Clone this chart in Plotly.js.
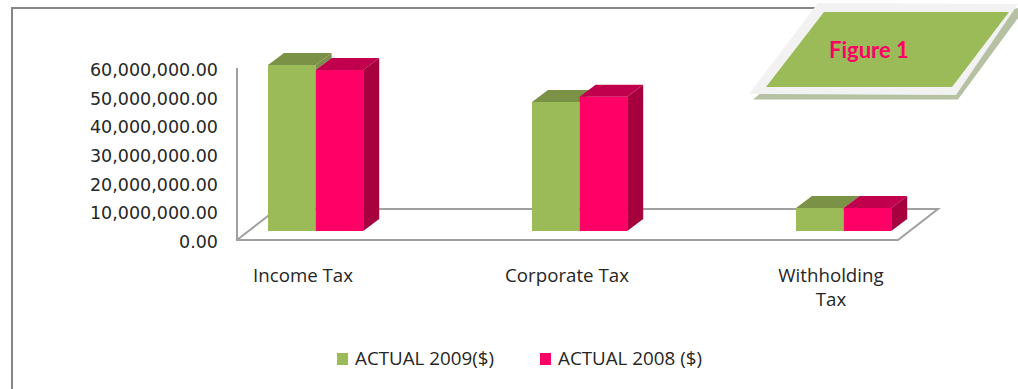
<!DOCTYPE html>
<html>
<head>
<meta charset="utf-8">
<script src="https://cdn.plot.ly/plotly-3.0.1.min.js"></script>
<style>html,body{margin:0;padding:0;background:#fff;overflow:hidden}</style>
</head>
<body>
<div id="chart" style="width:1018px;height:389px"></div>
<script>
// Tax revenue by type, in dollars
const categories = ["Income Tax", "Corporate Tax", "Withholding<br>Tax"];
const actual2009 = [57900000, 45000000, 8000000];
const actual2008 = [56200000, 46800000, 8000000];
const yTicks = [0, 10000000, 20000000, 30000000, 40000000, 50000000, 60000000];
const yTickText = ["0.00", "10,000,000.00", "20,000,000.00", "30,000,000.00", "40,000,000.00", "50,000,000.00", "60,000,000.00"];
const series2009 = "ACTUAL 2009($)";
const series2008 = "ACTUAL 2008 ($)";

// Plot area in pixels; value zero sits at zeroY
const W = 1018, H = 389;
const box = {l: 237, r: 950, t: 40, b: 260};
const zeroY = 240;
const catStep = 264, firstCat = 303;
const valPerPx = 60000000 / 172;

// Oblique projection of the boxes, expressed in axis units
const depthX = 16 / catStep, depthY = 12 * valPerPx;
const floorLift = 9 * valPerPx;
const barWidth = 47.6 / catStep;
const greenOffset = -35 / catStep;
const redOffset = greenOffset + barWidth;
const labelNudge = 2 * valPerPx;

const xRange = [(box.l - firstCat) / catStep, (box.r - firstCat) / catStep];
const yRange = [(zeroY - box.b) * valPerPx, (zeroY - box.t) * valPerPx];
const idx = categories.map((_, i) => i);

const px = x => (x - box.l) / (box.r - box.l);
const py = y => (box.b - y) / (box.b - box.t);
const path = pts => "M" + pts.map(p => px(p[0]) + "," + py(p[1])).join("L") + "Z";
const line = pts => "M" + pts.map(p => px(p[0]) + "," + py(p[1])).join("L");

function face(xs, ys, color, ax) {
  return {type: "scatter", mode: "lines", x: xs, y: ys, fill: "toself", fillcolor: color,
    line: {width: 0, color: color}, showlegend: false, hoverinfo: "skip", xaxis: "x" + ax, yaxis: "y" + ax};
}
function polys(list, color, ax) {
  const xs = [], ys = [];
  list.forEach(p => {
    p.forEach(q => { xs.push(q[0]); ys.push(q[1]); });
    xs.push(null); ys.push(null);
  });
  return face(xs, ys, color, ax);
}
function topFace(i, off, v) {
  const x0 = i + off, x1 = x0 + barWidth, t = v + floorLift;
  return [[x0, t], [x1, t], [x1 + depthX, t + depthY], [x0 + depthX, t + depthY], [x0, t]];
}
function sideFace(i, off, v, low) {
  const x1 = i + off + barWidth, t = v + floorLift;
  return [[x1, low], [x1, t], [x1 + depthX, t + depthY], [x1 + depthX, low + depthY], [x1, low]];
}
function frontBars(vals, off, color, name, ax) {
  return {type: "bar", x: idx, y: vals, base: vals.map(() => floorLift), width: barWidth, offset: off,
    name: name, marker: {color: color, line: {width: 0}}, xaxis: "x" + ax, yaxis: "y" + ax, hoverinfo: "skip", showlegend: false};
}

const traces = [
  frontBars(actual2009, greenOffset, "#9BBB59", series2009, ""),
  // Only the part of the green side that rises above the neighbouring bar shows
  polys(idx.filter(i => actual2009[i] > actual2008[i]).map(i =>
    sideFace(i, greenOffset, actual2009[i], actual2008[i] + floorLift)), "#7C8F4A", ""),
  polys(idx.map(i => topFace(i, greenOffset, actual2009[i])), "#7B9146", ""),
  frontBars(actual2008, redOffset, "#FF0066", series2008, "2"),
  polys(idx.map(i => sideFace(i, redOffset, actual2008[i], floorLift)), "#A6003F", "2"),
  polys(idx.map(i => topFace(i, redOffset, actual2008[i])), "#C0004D", "2")
];

const grey = "#A0A0A0";
const paperShape = o => Object.assign({type: "path", xref: "paper", yref: "paper"}, o);
const shapes = [
  // Chart frame, top and left edges only
  paperShape({path: line([[12, 389], [12, 8], [820, 8]]), line: {color: "#868686", width: 2}}),
  // Floor of the 3D box and the value axis
  paperShape({layer: "below", path: line([[237, 68], [237, 240], [898, 240], [938, 209], [277, 209], [237, 240]]), line: {color: grey, width: 2}}),
  // Figure badge
  paperShape({path: path([[753, 99.5], [958, 99.5], [1018, 18], [1018, 8], [800, 60]]), fillcolor: "#B6C0A2", line: {width: 0}}),
  paperShape({path: path([[818, 3], [1018, 4], [956, 95], [749, 94]]), fillcolor: "#F2F2F2", line: {width: 0}}),
  paperShape({path: path([[824, 12], [1009, 12], [952, 87], [766, 87]]), fillcolor: "#9BBB59", line: {width: 0}}),
  // Legend swatches
  paperShape({path: path([[337, 353], [348, 353], [348, 365], [337, 365]]), fillcolor: "#9BBB59", line: {width: 0}}),
  paperShape({path: path([[540, 353], [551, 353], [551, 365], [540, 365]]), fillcolor: "#FF0066", line: {width: 0}})
];

const textFont = "'Open Sans', sans-serif";
const note = (x, y, text, xanchor, font) => ({xref: "paper", yref: "paper", x: px(x), y: py(y), text: text,
  showarrow: false, xanchor: xanchor, yanchor: "middle", font: font, borderpad: 0});

const layout = {
  width: W, height: H,
  margin: {l: box.l, r: W - box.r, t: box.t, b: H - box.b, pad: 0},
  paper_bgcolor: "#fff", plot_bgcolor: "rgba(0,0,0,0)",
  barmode: "overlay",
  font: {family: textFont, color: "#262626"},
  xaxis: {range: xRange, tickmode: "array", tickvals: idx, ticktext: categories, showgrid: false, zeroline: false,
    showline: false, ticks: "", ticklabelstandoff: 2, fixedrange: true, tickangle: 0, tickfont: {family: textFont, size: 18.7, color: "#262626"}},
  yaxis: {range: yRange, tickmode: "array", tickvals: yTicks.map(v => v - labelNudge), ticktext: yTickText, showgrid: false, zeroline: false,
    showline: false, ticks: "", ticklabelstandoff: 18, fixedrange: true, tickfont: {family: "'DejaVu Sans', sans-serif", size: 17.5, color: "#262626"}},
  xaxis2: {range: xRange, overlaying: "x", visible: false, fixedrange: true},
  yaxis2: {range: yRange, overlaying: "y", visible: false, fixedrange: true},
  showlegend: false,
  shapes: shapes,
  annotations: [
    note(869, 49, "<b>Figure 1</b>", "center", {family: "Lato, sans-serif", size: 22, color: "#FF0066"}),
    note(354, 358, series2009, "left", {family: textFont, size: 18.8, color: "#262626"}),
    note(557, 358, series2008, "left", {family: textFont, size: 18.8, color: "#262626"})
  ]
};

Plotly.newPlot("chart", traces, layout, {staticPlot: true, displayModeBar: false});
</script>
</body>
</html>
